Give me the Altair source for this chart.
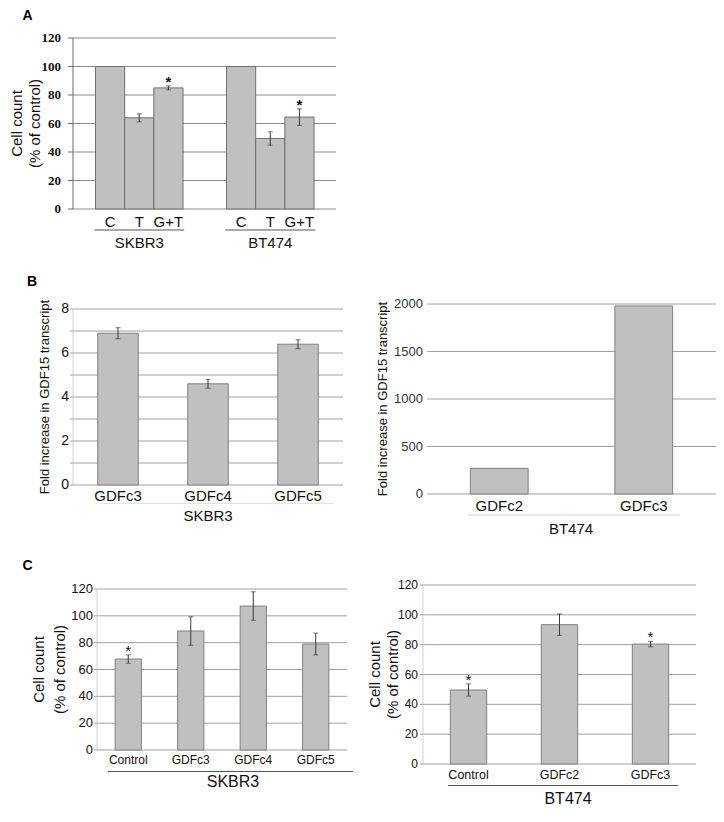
import altair as alt
import pandas as pd

# ---------------- data ----------------
# Panel A : cell count (% of control)
a_cells = ["SKBR3", "BT474"]
a_conds = ["C", "T", "G+T"]
a_skbr3_vals = [100, 64, 85]
a_skbr3_err = [0, 2.8, 1.4]
a_skbr3_star = ["", "", "*"]
a_bt474_vals = [100, 49.5, 64.5]
a_bt474_err = [0, 4.7, 5.8]
a_bt474_star = ["", "", "*"]
a_ticks = [0, 20, 40, 60, 80, 100, 120]

# Panel B left : fold increase in GDF15 transcript, SKBR3
bl_names = ["GDFc3", "GDFc4", "GDFc5"]
bl_vals = [6.9, 4.6, 6.4]
bl_err = [0.25, 0.2, 0.2]
bl_star = ["", "", ""]
bl_grid = [0, 1, 2, 3, 4, 5, 6, 7, 8]
bl_ticks = [0, 2, 4, 6, 8]

# Panel B right : fold increase in GDF15 transcript, BT474
br_names = ["GDFc2", "GDFc3"]
br_vals = [270, 1980]
br_ticks = [0, 500, 1000, 1500, 2000]

# Panel C left : cell count, SKBR3
cl_names = ["Control", "GDFc3", "GDFc4", "GDFc5"]
cl_vals = [67.8, 88.7, 107.3, 79]
cl_err = [3.1, 10.6, 10.6, 8.1]
cl_star = ["*", "", "", ""]

# Panel C right : cell count, BT474
cr_names = ["Control", "GDFc2", "GDFc3"]
cr_vals = [49.6, 93.4, 80.4]
cr_err = [4.1, 7.2, 1.8]
cr_star = ["*", "", "*"]
c_ticks = [0, 20, 40, 60, 80, 100, 120]

# ---------------- style ----------------
FONT = "Liberation Sans"
SERIF = "Liberation Serif"
BAR_FILL = "#c0c0c0"
ERR = "#3a3a3a"
TXT = "#111111"
GRID = "#a0a0a0"
W, H = 708, 800
O = 8  # page margin: page coordinates -> plot coordinates


def P(v):
    return v - O


def one(**kw):
    return pd.DataFrame({k: [v] for k, v in kw.items()})


def yscale(ymax, bottom, top):
    return alt.Scale(domain=[0, ymax], range=[P(bottom), P(top)], nice=False, zero=True)


def xband(names, x0, x1, pad):
    return alt.Scale(domain=names, range=[P(x0), P(x1)], paddingInner=pad, paddingOuter=pad / 2)


def text_at(t, x, y, size, align="center", baseline="alphabetic", angle=0, weight="normal",
            font=FONT, color=TXT):
    return alt.Chart(one(t=t)).mark_text(
        fontSize=size, align=align, baseline=baseline, angle=angle, fontWeight=weight,
        font=font, color=color).encode(x=alt.value(P(x)), y=alt.value(P(y)), text="t:N")


def hline(x1, x2, y, color, width=1):
    return alt.Chart(one(z=0)).mark_rule(color=color, strokeWidth=width).encode(
        x=alt.value(P(x1)), x2=alt.value(P(x2)), y=alt.value(P(y)))


def vline(x, y1, y2, color, width=1):
    return alt.Chart(one(z=0)).mark_rule(color=color, strokeWidth=width).encode(
        x=alt.value(P(x)), y=alt.value(P(y1)), y2=alt.value(P(y2)))


def y_axis(grid_vals, label_vals, ys, x_left, x_right, grid_color, label_right, size,
           font=FONT, weight="normal", label_color=TXT, axis_x=None, axis_color=None,
           tick_len=0, tick_color=None, top=None, bottom=None):
    out = [alt.Chart(pd.DataFrame({"t": grid_vals})).mark_rule(color=grid_color, strokeWidth=1).encode(
        y=alt.Y("t:Q", scale=ys, axis=None), x=alt.value(P(x_left)), x2=alt.value(P(x_right)))]
    if axis_x is not None:
        out.append(vline(axis_x, top, bottom, axis_color))
        if tick_len:
            out.append(alt.Chart(pd.DataFrame({"t": grid_vals})).mark_rule(
                color=tick_color, strokeWidth=1).encode(
                y=alt.Y("t:Q", scale=ys, axis=None), x=alt.value(P(axis_x - tick_len)),
                x2=alt.value(P(axis_x))))
    out.append(alt.Chart(pd.DataFrame({"t": label_vals, "lab": [str(v) for v in label_vals]})).mark_text(
        align="right", baseline="middle", fontSize=size, font=font, fontWeight=weight,
        color=label_color).encode(
        y=alt.Y("t:Q", scale=ys, axis=None), x=alt.value(P(label_right)), text="lab:N"))
    return out


def bar_group(names, vals, errs, stars, xs, ys, stroke, label_y, label_size, star_bold=False):
    df = pd.DataFrame({"name": names, "value": vals})
    x = alt.X("name:N", sort=names, scale=xs, axis=None)
    out = [alt.Chart(df).mark_bar(fill=BAR_FILL, stroke=stroke, strokeWidth=1).encode(
        x=x, y=alt.Y("value:Q", scale=ys, axis=None))]
    if errs is not None:
        e, c, s = [], [], []
        for n, v, er, st in zip(names, vals, errs, stars):
            if er > 0:
                e.append({"name": n, "lo": v - er, "hi": v + er})
                c.extend([{"name": n, "v": v - er}, {"name": n, "v": v + er}])
            if st:
                s.append({"name": n, "hi": v + er, "star": st})
        if e:
            out.append(alt.Chart(pd.DataFrame(e)).mark_rule(color=ERR, strokeWidth=1).encode(
                x=x, y=alt.Y("lo:Q", scale=ys, axis=None), y2="hi:Q"))
            out.append(alt.Chart(pd.DataFrame(c)).mark_tick(
                orient="horizontal", size=5, thickness=1, color=ERR).encode(
                x=x, y=alt.Y("v:Q", scale=ys, axis=None)))
        if s:
            out.append(alt.Chart(pd.DataFrame(s)).mark_text(
                fontSize=15, fontWeight="bold" if star_bold else "normal", baseline="alphabetic",
                dy=1, color=TXT).encode(
                x=x, y=alt.Y("hi:Q", scale=ys, axis=None), text="star:N"))
    out.append(alt.Chart(df).mark_text(fontSize=label_size, baseline="alphabetic", color=TXT).encode(
        x=x, y=alt.value(P(label_y)), text="name:N"))
    return out


layers = []

# ---------------- Panel A ----------------
ysA = yscale(120, 209, 38)
layers += y_axis(a_ticks, a_ticks, ysA, 73, 336, "#8c8c8c", 61, 13, font=SERIF, weight="bold",
                 axis_x=73, axis_color="#6a6a6a", tick_len=5, tick_color="#6a6a6a", top=38, bottom=209)
layers.append(text_at("Cell count", 17, 123.5, 15, baseline="middle", angle=270))
layers.append(text_at("(% of control)", 35, 123.5, 15, baseline="middle", angle=270))
for cell, vals, errs, stars, (g0, g1) in [
        ("SKBR3", a_skbr3_vals, a_skbr3_err, a_skbr3_star, (95.5, 183)),
        ("BT474", a_bt474_vals, a_bt474_err, a_bt474_star, (226.5, 314))]:
    xs = alt.Scale(domain=a_conds, range=[P(g0), P(g1)], paddingInner=0, paddingOuter=0)
    layers += bar_group(a_conds, vals, errs, stars, xs, ysA, "#6f6f6f", 227, 15, star_bold=True)
    mid = (g0 + g1) / 2
    layers.append(hline(mid - 45, mid + 45, 230, "#555555"))
    layers.append(text_at(cell, mid, 248, 15))
layers.append(text_at("A", 22.5, 19.5, 14, align="left", weight="bold", color="#000000"))

# ---------------- Panel B left ----------------
ysBl = yscale(8, 485, 309)
layers += y_axis(bl_grid, bl_ticks, ysBl, 73, 343, GRID, 69, 14,
                 axis_x=73, axis_color="#d0d0d0", tick_len=3, tick_color=GRID, top=309, bottom=485)
layers.append(text_at("Fold increase in GDF15 transcript", 45, 397, 13, baseline="middle", angle=270))
layers += bar_group(bl_names, bl_vals, bl_err, bl_star, xband(bl_names, 73, 343, 0.55), ysBl,
                    "#808080", 501, 15)
layers.append(hline(100, 333, 503.5, "#e2e2e2"))
layers.append(text_at("SKBR3", 208, 521, 15))
layers.append(text_at("B", 27, 285.5, 14, align="left", weight="bold", color="#000000"))

# ---------------- Panel B right ----------------
ysBr = yscale(2000, 494, 304)
layers += y_axis(br_ticks, br_ticks, ysBr, 427, 716, GRID, 423, 13, label_color="#333333")
layers.append(text_at("Fold increase in GDF15 transcript", 383, 399, 13, baseline="middle", angle=270))
layers += bar_group(br_names, br_vals, None, None, xband(br_names, 427, 716, 0.6), ysBr,
                    "#808080", 511, 15)
layers.append(hline(468, 680, 515, "#d0d0d0"))
layers.append(text_at("BT474", 571, 534, 15))

# ---------------- Panel C left ----------------
ysCl = yscale(120, 750, 589)
layers += y_axis(c_ticks, c_ticks, ysCl, 97, 347, GRID, 93, 13,
                 axis_x=97, axis_color="#d0d0d0", tick_len=3, tick_color=GRID, top=589, bottom=750)
layers.append(text_at("Cell count", 39, 669.5, 15, baseline="middle", angle=270))
layers.append(text_at("(% of control)", 60, 669.5, 15, baseline="middle", angle=270))
layers += bar_group(cl_names, cl_vals, cl_err, cl_star, xband(cl_names, 97, 347, 0.58), ysCl,
                    "#808080", 763.5, 12)
layers.append(hline(108, 353, 771.5, "#555555"))
layers.append(text_at("SKBR3", 233, 787, 16))
layers.append(text_at("C", 22.5, 569.5, 14, align="left", weight="bold", color="#000000"))

# ---------------- Panel C right ----------------
ysCr = yscale(120, 764, 585)
layers += y_axis(c_ticks, c_ticks, ysCr, 423, 696, GRID, 418, 12,
                 axis_x=423, axis_color="#d0d0d0", tick_len=3, tick_color=GRID, top=585, bottom=764)
layers.append(text_at("Cell count", 375, 674.5, 15, baseline="middle", angle=270))
layers.append(text_at("(% of control)", 393, 674.5, 15, baseline="middle", angle=270))
layers += bar_group(cr_names, cr_vals, cr_err, cr_star, xband(cr_names, 423, 696, 0.6), ysCr,
                    "#808080", 778.5, 12.5)
layers.append(hline(448, 678, 785.5, "#555555"))
layers.append(text_at("BT474", 568, 803.5, 16))

chart = alt.layer(*layers).resolve_scale(x="independent", y="independent").properties(
    width=W, height=H, autosize=alt.AutoSizeParams(type="none"), padding=0)
chart = chart.configure(font=FONT).configure_view(stroke=None)

chart.save("out.html", embed_options={"renderer": "svg", "actions": False})
